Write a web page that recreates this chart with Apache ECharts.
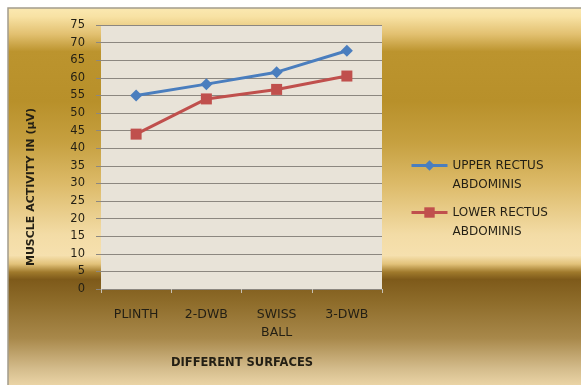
<!DOCTYPE html>
<html>
<head>
<meta charset="utf-8">
<script src="https://cdn.jsdelivr.net/npm/echarts@6/dist/echarts.min.js"></script>
<style>
  html, body { margin: 0; padding: 0; background: #ffffff; }
  #chart { width: 581px; height: 385px; }
</style>
</head>
<body>
<div id="chart"></div>
<script>
// Surfaces tested and mean muscle activity (µV) per muscle region
var surfaces = ['PLINTH', '2-DWB', 'SWISS\nBALL', '3-DWB'];
var upperRectus = [55, 58.2, 61.6, 67.7];
var lowerRectus = [44, 54, 56.7, 60.5];
var seriesNames = ['UPPER RECTUS ABDOMINIS', 'LOWER RECTUS ABDOMINIS'];
var yTicks = { min: 0, max: 75, step: 5 };

var FONT = 'DejaVu Sans';
var TEXT = '#231f14';

var chart = echarts.init(document.getElementById('chart'), null, { renderer: 'canvas' });

// One legend block per series; a leading blank line keeps the icon level with
// the first line of the wrapped name.
function legendFor(name, top) {
  return {
    data: [name],
    left: 410,
    top: top,
    orient: 'vertical',
    itemWidth: 36,
    itemHeight: 13,
    itemGap: 0,
    padding: 0,
    selectedMode: false,
    lineStyle: { width: 3 },
    formatter: function (n) { return ' \n' + n.replace(' ABDOMINIS', '\nABDOMINIS'); },
    textStyle: {
      fontFamily: FONT,
      fontSize: 12,
      color: TEXT,
      lineHeight: 19
    }
  };
}

chart.setOption({
  animation: false,
  backgroundColor: '#ffffff',
  graphic: [
    {
      type: 'rect',
      z: -10,
      shape: { x: 8, y: 8, width: 580, height: 384 },
      style: {
        stroke: '#a39c8c',
        lineWidth: 1.5,
        fill: new echarts.graphic.LinearGradient(0, 0, 0, 1, [
          { offset: 0.0, color: '#fbe9b2' },
          { offset: 0.024, color: '#f8e2a4' },
          { offset: 0.07, color: '#e2c070' },
          { offset: 0.115, color: '#bc942e' },
          { offset: 0.243, color: '#b8902a' },
          { offset: 0.35, color: '#c6a040' },
          { offset: 0.457, color: '#dcba68' },
          { offset: 0.59, color: '#f3dca6' },
          { offset: 0.644, color: '#f6e0ae' },
          { offset: 0.666, color: '#e2c27a' },
          { offset: 0.687, color: '#a07a2c' },
          { offset: 0.706, color: '#7e5a1a' },
          { offset: 0.765, color: '#8e6c2a' },
          { offset: 0.858, color: '#a8884a' },
          { offset: 0.938, color: '#d4bc8c' },
          { offset: 1.0, color: '#f5dfb2' }
        ])
      }
    },
    {
      type: 'text',
      x: 31,
      y: 187,
      rotation: Math.PI / 2,
      style: {
        text: 'MUSCLE ACTIVITY IN (µV)',
        fontFamily: FONT,
        fontWeight: 'bold',
        fontSize: 11,
        fill: TEXT,
        align: 'center',
        verticalAlign: 'middle'
      }
    },
    {
      type: 'text',
      x: 242,
      y: 363,
      style: {
        text: 'DIFFERENT SURFACES',
        fontFamily: FONT,
        fontWeight: 'bold',
        fontSize: 11.5,
        fill: TEXT,
        align: 'center',
        verticalAlign: 'middle'
      }
    }
  ],
  grid: {
    left: 101,
    right: 199,
    top: 25,
    bottom: 96,
    show: true,
    backgroundColor: '#e8e3d8',
    borderWidth: 0
  },
  legend: [legendFor(seriesNames[0], 137), legendFor(seriesNames[1], 184)],
  xAxis: {
    type: 'category',
    data: surfaces,
    boundaryGap: true,
    axisLine: { show: true, lineStyle: { color: '#8c8780', width: 1 } },
    axisTick: { show: true, length: 4, lineStyle: { color: '#c8c2b4' } },
    axisLabel: {
      fontFamily: FONT,
      fontSize: 12.5,
      color: TEXT,
      margin: 17,
      lineHeight: 18,
      interval: 0
    }
  },
  yAxis: {
    type: 'value',
    min: yTicks.min,
    max: yTicks.max,
    interval: yTicks.step,
    axisLine: { show: false },
    axisTick: { show: true, length: 5, lineStyle: { color: '#8c8780' } },
    axisLabel: {
      fontFamily: FONT,
      fontSize: 11.5,
      color: TEXT,
      margin: 16
    },
    splitLine: { show: true, lineStyle: { color: '#8c8780', width: 1 } }
  },
  series: [
    {
      name: seriesNames[0],
      type: 'line',
      data: upperRectus,
      symbol: 'diamond',
      symbolSize: 12,
      color: '#4a7ebe',
      lineStyle: { width: 3, color: '#4a7ebe' },
      itemStyle: { color: '#4a7ebe' }
    },
    {
      name: seriesNames[1],
      type: 'line',
      data: lowerRectus,
      symbol: 'rect',
      symbolSize: 11,
      color: '#c0504d',
      lineStyle: { width: 3, color: '#c0504d' },
      itemStyle: { color: '#c0504d' }
    }
  ]
});
</script>
</body>
</html>
